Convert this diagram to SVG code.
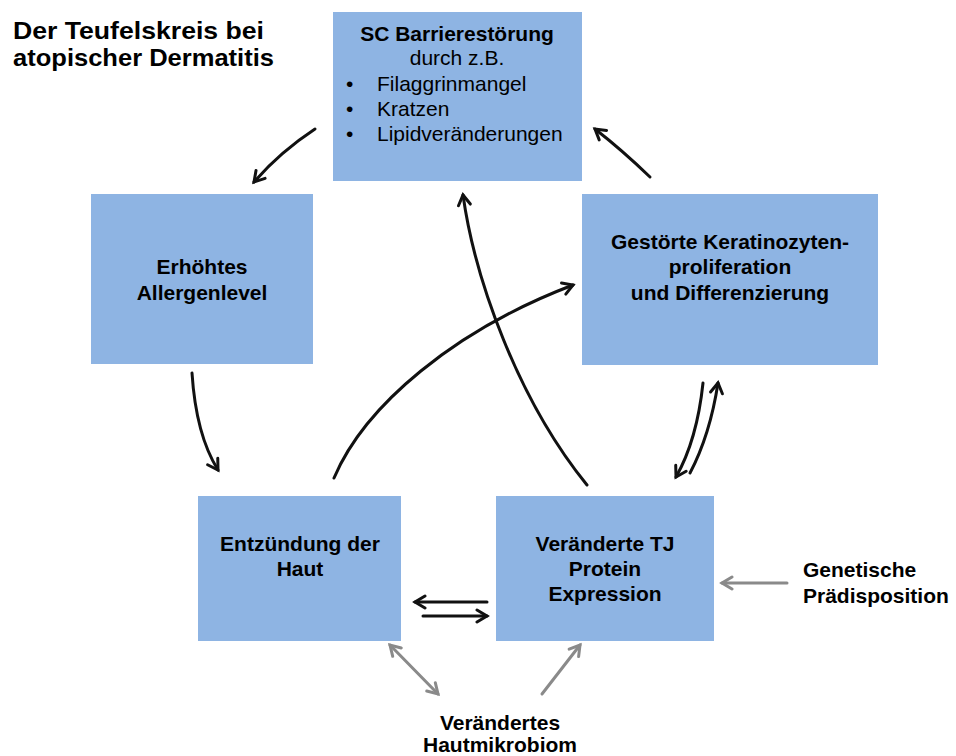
<svg xmlns="http://www.w3.org/2000/svg" width="956" height="756" viewBox="0 0 956 756">
<defs>
<style>
.box{fill:#8eb4e3;}
.t{font-family:"Liberation Sans",Arial,sans-serif;font-size:21px;fill:#000;}
.b{font-weight:bold;}
.c{text-anchor:middle;}
.title{font-family:"Liberation Sans",Arial,sans-serif;font-size:24px;font-weight:bold;fill:#000;}
.k{fill:none;stroke:#111;stroke-width:3;stroke-linecap:round;}
.g{fill:none;stroke:#8a8a8a;stroke-width:3;stroke-linecap:round;}
</style>
<marker id="ak" markerUnits="userSpaceOnUse" viewBox="0 0 16 16" markerWidth="16" markerHeight="16" refX="13" refY="8" orient="auto">
<path d="M3,2 L13,8 L3,14" fill="none" stroke="#111" stroke-width="3" stroke-linecap="round" stroke-linejoin="miter"/>
</marker>
<marker id="ag" markerUnits="userSpaceOnUse" viewBox="0 0 16 16" markerWidth="16" markerHeight="16" refX="13" refY="8" orient="auto-start-reverse">
<path d="M3,2 L13,8 L3,14" fill="none" stroke="#8a8a8a" stroke-width="3" stroke-linecap="round" stroke-linejoin="miter"/>
</marker>
</defs>
<rect width="956" height="756" fill="#fff"/>

<g id="title">
<text class="title" x="13" y="39" textLength="251" lengthAdjust="spacingAndGlyphs">Der Teufelskreis bei</text>
<text class="title" x="13" y="66" textLength="261" lengthAdjust="spacingAndGlyphs">atopischer Dermatitis</text>
</g>

<g id="sc-barriere">
<rect class="box" x="333" y="12" width="249" height="169"/>
<text class="t b c" x="457" y="41">SC Barrierestörung</text>
<text class="t c" x="457" y="65">durch z.B.</text>
<text class="t" x="346" y="91">•</text>
<text class="t" x="377" y="91">Filaggrinmangel</text>
<text class="t" x="346" y="116">•</text>
<text class="t" x="377" y="116">Kratzen</text>
<text class="t" x="346" y="141">•</text>
<text class="t" x="377" y="141">Lipidveränderungen</text>
</g>

<g id="allergen">
<rect class="box" x="91" y="194" width="222" height="170"/>
<text class="t b c" x="202" y="274">Erhöhtes</text>
<text class="t b c" x="202" y="300">Allergenlevel</text>
</g>

<g id="keratinozyten">
<rect class="box" x="582" y="194" width="296" height="171"/>
<text class="t b c" x="730" y="249">Gestörte Keratinozyten-</text>
<text class="t b c" x="730" y="274">proliferation</text>
<text class="t b c" x="730" y="300">und Differenzierung</text>
</g>

<g id="entzuendung">
<rect class="box" x="198" y="496" width="203" height="145"/>
<text class="t b c" x="300" y="551">Entzündung der</text>
<text class="t b c" x="300" y="576">Haut</text>
</g>

<g id="tj-protein">
<rect class="box" x="496" y="496" width="218" height="145"/>
<text class="t b c" x="605" y="551">Veränderte TJ</text>
<text class="t b c" x="605" y="576">Protein</text>
<text class="t b c" x="605" y="601">Expression</text>
</g>

<g id="genetik">
<text class="t b" x="803" y="577">Genetische</text>
<text class="t b" x="803" y="603">Prädisposition</text>
</g>

<g id="mikrobiom">
<text class="t b c" x="500" y="730">Verändertes</text>
<text class="t b c" x="500" y="752">Hautmikrobiom</text>
</g>

<g id="connectors">
<path class="k" d="M315,129 Q280,152 254,182" marker-end="url(#ak)"/>
<path class="k" d="M192,373 Q196,435 218,470" marker-end="url(#ak)"/>
<path class="k" d="M334,478 C365,405 455,330 573,285" marker-end="url(#ak)"/>
<path class="k" d="M587,485 C518,400 475,280 463,195" marker-end="url(#ak)"/>
<path class="k" d="M650,177 Q622,150 595,129" marker-end="url(#ak)"/>
<path class="k" d="M703,383 Q697,440 676,477" marker-end="url(#ak)"/>
<path class="k" d="M690,473 Q710,435 718,383" marker-end="url(#ak)"/>
<path class="k" d="M487,602 L415,602" marker-end="url(#ak)"/>
<path class="k" d="M423,616 L487,616" marker-end="url(#ak)"/>
<path class="g" d="M787,583 L722,583" marker-end="url(#ag)"/>
<path class="g" d="M390,645 L438,694" marker-start="url(#ag)" marker-end="url(#ag)"/>
<path class="g" d="M542,694 L580,645" marker-end="url(#ag)"/>
</g>
</svg>
